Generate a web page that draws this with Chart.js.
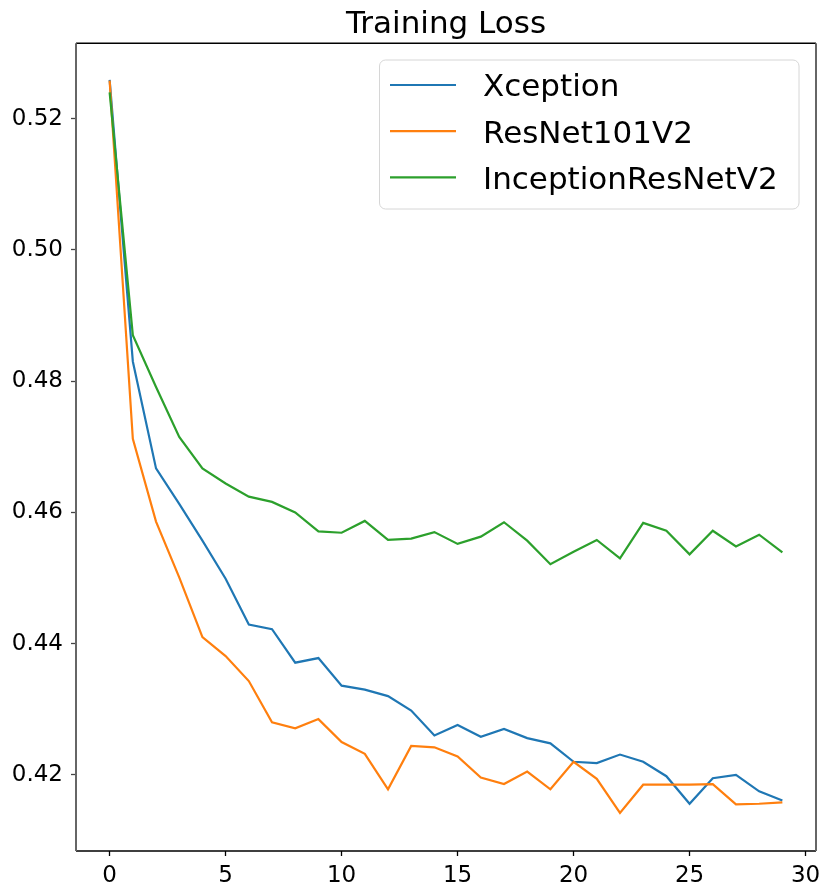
<!DOCTYPE html>
<html>
<head>
<meta charset="utf-8">
<title>Training Loss</title>
<script src="https://cdn.jsdelivr.net/npm/chart.js@4.4.1/dist/chart.umd.min.js"></script>
<style>
    html, body { margin: 0; padding: 0; background: #fff; }
    canvas { display: block; }
</style>
</head>
<body>
<canvas id="lossChart" width="830" height="896"></canvas>
<script>
    // epochs 0..29
    const epochs = [0,1,2,3,4,5,6,7,8,9,10,11,12,13,14,15,16,17,18,19,20,21,22,23,24,25,26,27,28,29];

    const seriesNames = ['Xception', 'ResNet101V2', 'InceptionResNetV2'];
    const seriesColors = ['#1f77b4', '#ff7f0e', '#2ca02c'];

    const xceptionLoss = [0.5259, 0.4830, 0.4667, 0.4613, 0.4557, 0.4499, 0.4429, 0.4422, 0.4371, 0.4378,
                          0.4336, 0.4330, 0.4320, 0.4298, 0.4260, 0.4276, 0.4258, 0.4270, 0.4256, 0.4248,
                          0.4220, 0.4218, 0.4231, 0.4220, 0.4198, 0.4156, 0.4195, 0.4200, 0.4175, 0.4161];
    const resnetLoss = [0.5258, 0.4712, 0.4586, 0.4501, 0.4410, 0.4381, 0.4343, 0.4280, 0.4271, 0.4285,
                        0.4250, 0.4232, 0.4178, 0.4244, 0.4242, 0.4228, 0.4196, 0.4186, 0.4205, 0.4178,
                        0.4220, 0.4194, 0.4142, 0.4185, 0.4185, 0.4185, 0.4186, 0.4155, 0.4156, 0.4158];
    const inceptionLoss = [0.5240, 0.4870, 0.4791, 0.4715, 0.4667, 0.4644, 0.4624, 0.4616, 0.4600, 0.4571,
                           0.4569, 0.4587, 0.4558, 0.4560, 0.4570, 0.4552, 0.4563, 0.4585, 0.4557, 0.4521,
                           0.4540, 0.4558, 0.4530, 0.4584, 0.4572, 0.4536, 0.4572, 0.4548, 0.4566, 0.4539];

    const xTicks = [0, 5, 10, 15, 20, 25, 30];
    const yTicks = [0.42, 0.44, 0.46, 0.48, 0.50, 0.52];

    const FONT = 'DejaVu Sans';

    function toPoints(values) {
        return values.map(function(v, i) { return { x: epochs[i], y: v }; });
    }

    const lossData = {
        datasets: [xceptionLoss, resnetLoss, inceptionLoss].map(function(values, i) {
            return {
                label: seriesNames[i],
                data: toPoints(values),
                borderColor: seriesColors[i],
                backgroundColor: seriesColors[i],
                borderWidth: 2.2,
                pointRadius: 0,
                tension: 0,
                // matplotlib draws later lines on top
                order: 3 - i
            };
        })
    };

    // matplotlib-like frame round the plot area
    const framePlugin = {
        id: 'frame',
        afterDatasetsDraw(chart) {
            const a = chart.chartArea;
            const c = chart.ctx;
            c.save();
            c.lineWidth = 1.5;
            c.strokeStyle = '#000';
            c.beginPath();
            c.moveTo(a.left, a.top); c.lineTo(a.right, a.top);
            c.moveTo(a.left, a.bottom); c.lineTo(a.right, a.bottom);
            c.stroke();
            c.lineWidth = 2;
            c.strokeStyle = '#666';
            c.beginPath();
            c.moveTo(a.left, a.top); c.lineTo(a.left, a.bottom);
            c.moveTo(a.right, a.top); c.lineTo(a.right, a.bottom);
            c.stroke();
            c.restore();
        }
    };

    // legend box in the upper right corner, like plt.legend()
    const boxLegendPlugin = {
        id: 'boxLegend',
        afterDraw(chart) {
            const c = chart.ctx;
            const x = 379.5, y = 60, w = 419.5, h = 149, r = 6;
            c.save();
            c.beginPath();
            c.moveTo(x + r, y);
            c.arcTo(x + w, y, x + w, y + h, r);
            c.arcTo(x + w, y + h, x, y + h, r);
            c.arcTo(x, y + h, x, y, r);
            c.arcTo(x, y, x + w, y, r);
            c.closePath();
            c.fillStyle = 'rgba(255,255,255,0.8)';
            c.fill();
            c.lineWidth = 1;
            c.strokeStyle = '#d6d6d6';
            c.stroke();

            c.font = '31px "' + FONT + '"';
            c.fillStyle = '#000';
            c.textAlign = 'left';
            c.textBaseline = 'alphabetic';
            seriesNames.forEach(function(name, i) {
                const rowY = 85 + i * 46.2;
                c.strokeStyle = seriesColors[i];
                c.lineWidth = 2.2;
                c.beginPath();
                c.moveTo(390, rowY);
                c.lineTo(456, rowY);
                c.stroke();
                c.fillText(name, 483, rowY + 11.3);
            });
            c.restore();
        }
    };

    const lossOptions = {
        responsive: false,
        animation: false,
        layout: {
            padding: { left: 0, top: 0, right: 14, bottom: 0 }
        },
        scales: {
            x: {
                type: 'linear',
                min: -1.45,
                max: 30.45,
                afterBuildTicks: function(scale) {
                    scale.ticks = xTicks.map(function(v) { return { value: v }; });
                },
                afterFit: function(scale) { scale.height = 45; },
                ticks: {
                    color: '#000',
                    font: { family: FONT, size: 23 },
                    padding: 6,
                    maxRotation: 0,
                    callback: function(value) { return value.toString(); }
                },
                grid: {
                    drawOnChartArea: false,
                    drawTicks: true,
                    tickLength: 5,
                    tickColor: '#000',
                    tickWidth: 1.3
                },
                border: { display: false }
            },
            y: {
                min: 0.4084,
                max: 0.5315,
                afterBuildTicks: function(scale) {
                    scale.ticks = yTicks.map(function(v) { return { value: v }; });
                },
                afterFit: function(scale) { scale.width = 76; },
                ticks: {
                    color: '#000',
                    font: { family: FONT, size: 23 },
                    padding: 8,
                    callback: function(value) { return value.toFixed(2); }
                },
                grid: {
                    drawOnChartArea: false,
                    drawTicks: true,
                    tickLength: 5,
                    tickColor: '#444',
                    tickWidth: 1.3
                },
                border: { display: false }
            }
        },
        plugins: {
            legend: {
                display: false
            },
            tooltip: {
                enabled: false
            },
            title: {
                display: true,
                text: 'Training Loss',
                color: '#000',
                fullSize: false,
                font: { family: FONT, size: 31, weight: 'normal', lineHeight: 1.2 },
                padding: { top: 6, bottom: 0 }
            }
        }
    };

    const ctxLoss = document.getElementById('lossChart').getContext('2d');
    const lossChart = new Chart(ctxLoss, {
        type: 'line',
        data: lossData,
        options: lossOptions,
        plugins: [framePlugin, boxLegendPlugin]
    });
</script>
</body>
</html>
